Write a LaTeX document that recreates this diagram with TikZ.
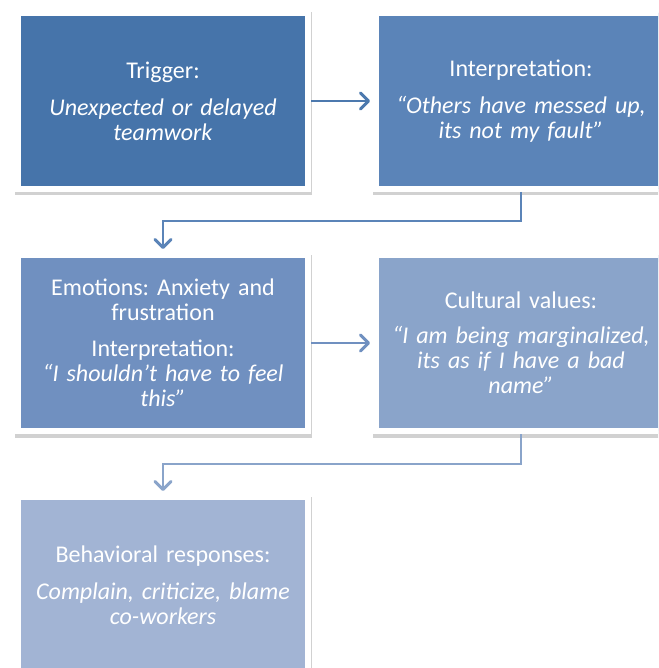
\documentclass[tikz,border=0pt]{standalone}
\usepackage{fontspec}
\setmainfont{Carlito}
\usetikzlibrary{arrows.meta, positioning, shadows}
\frenchspacing

\definecolor{trigcol}{HTML}{4674AA}
\definecolor{interpcol}{HTML}{5B84B8}
\definecolor{emocol}{HTML}{7090C0}
\definecolor{cultcol}{HTML}{8AA4CA}
\definecolor{behavcol}{HTML}{A2B4D4}

\begin{document}
\begin{tikzpicture}[
    x=1pt, y=1pt,
    box/.style={rectangle, draw=white, line width=6pt, outer sep=3pt, inner sep=0pt,
                minimum width=290pt, minimum height=176pt, text width=284pt, align=center,
                text=white, font=\fontsize{24}{25}\selectfont,
                drop shadow={shadow xshift=0.5pt, shadow yshift=-3pt, opacity=0.18,
                             fill=black, draw=black, line width=7pt}},
    arrow/.style={line width=1.7pt, shorten >=3pt,
                  -{Straight Barb[length=8pt, width=16pt, line width=3pt, round]}}
]
\useasboundingbox (0,0) rectangle (658,-668);
\clip (0,0) rectangle (658,-668);

\node (trigger) [box, fill=trigcol] at (163,-101)
    {Trigger:\\[12pt] \textit{Unexpected or delayed}\\ \textit{teamwork}};
\node (interp)  [box, fill=interpcol, right=62pt of trigger]
    {Interpretation:\\[12pt] \textit{“Others have messed up,}\\ \textit{its not my fault”}};
\node (emo)     [box, fill=emocol, below=60pt of trigger]
    {Emotions: Anxiety and\\ frustration\\[11pt] Interpretation:\\ \textit{“I shouldn’t have to feel}\\ \textit{this”}};
\node (cult)    [box, fill=cultcol, right=62pt of emo]
    {Cultural values:\\[10pt] \textit{“I am being marginalized,}\\ \textit{its as if I have a bad}\\ \textit{name”}};
\node (behav)   [box, fill=behavcol, below=60pt of emo]
    {Behavioral responses:\\[12pt] \textit{Complain, criticize, blame}\\ \textit{co-workers}};

\draw [arrow, trigcol!70!interpcol] (trigger) -- (interp);
\draw [arrow, interpcol] (interp.south) -- ++(0,-29) -| (emo.north);
\draw [arrow, emocol]    (emo) -- (cult);
\draw [arrow, cultcol]   (cult.south) -- ++(0,-30) -| (behav.north);
\end{tikzpicture}
\end{document}
